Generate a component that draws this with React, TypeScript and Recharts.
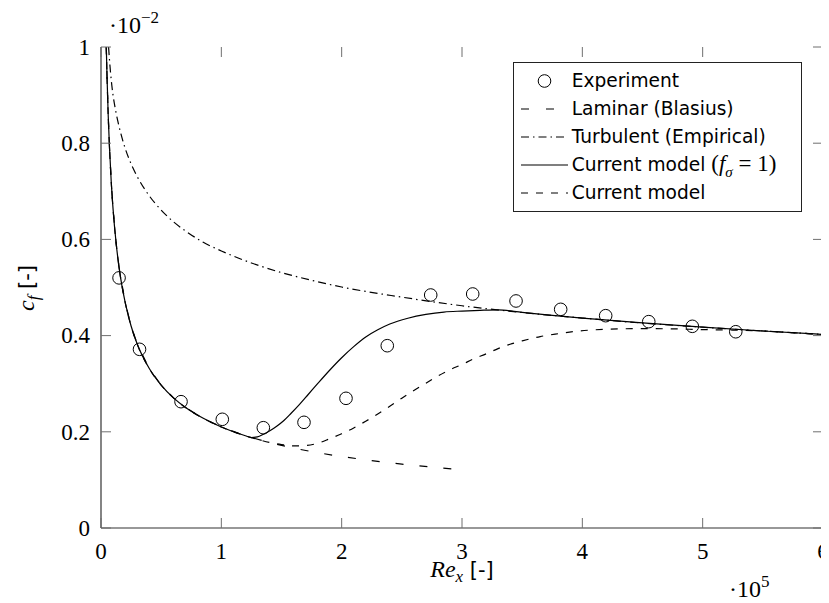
import React from 'react';
import { ComposedChart, Line, Scatter, XAxis, YAxis, Legend, Label } from 'recharts';

// Experiment (Re_x in 1e5, c_f in 1e-2)
const expX = [0.15, 0.32, 0.665, 1.008, 1.349, 1.687, 2.036, 2.379, 2.74, 3.089, 3.449, 3.82, 4.194, 4.552, 4.914, 5.275];
const expY = [0.52, 0.3715, 0.2626, 0.226, 0.2085, 0.2197, 0.2696, 0.379, 0.4844, 0.4865, 0.472, 0.4546, 0.4414, 0.429, 0.4193, 0.408];

// Laminar (Blasius)
const lamX = [0.044, 0.05, 0.06, 0.07, 0.085, 0.1, 0.125, 0.15, 0.2, 0.25, 0.3, 0.4, 0.5, 0.6, 0.7, 0.85, 1.0, 1.2, 1.4, 1.6, 1.8, 2.0, 2.25, 2.5, 2.75, 3.0];
const lamY = [1.0, 0.939, 0.857, 0.794, 0.72, 0.664, 0.594, 0.542, 0.47, 0.42, 0.383, 0.332, 0.297, 0.271, 0.251, 0.228, 0.21, 0.1917, 0.1775, 0.166, 0.1565, 0.1485, 0.14, 0.1328, 0.1266, 0.1212];

// Turbulent (Empirical)
const turX = [0.063, 0.07, 0.08, 0.09, 0.1, 0.12, 0.15, 0.2, 0.25, 0.3, 0.4, 0.5, 0.6, 0.7, 0.85, 1.0, 1.25, 1.5, 1.75, 2.0, 2.5, 3.0, 3.5, 4.0, 4.5, 5.0, 5.5, 6.0];
const turY = [1.0, 0.975, 0.945, 0.92, 0.9, 0.87, 0.835, 0.79, 0.757, 0.731, 0.691, 0.661, 0.637, 0.618, 0.594, 0.576, 0.551, 0.531, 0.515, 0.501, 0.48, 0.462, 0.448, 0.4365, 0.426, 0.4175, 0.4096, 0.4025];

// Current model (f_sigma = 1)
const cm1X = [0.044, 0.05, 0.06, 0.07, 0.085, 0.1, 0.125, 0.15, 0.2, 0.25, 0.3, 0.4, 0.5, 0.6, 0.7, 0.85, 1.0, 1.2, 1.25, 1.3, 1.35, 1.4, 1.46, 1.52, 1.58, 1.65, 1.72, 1.8, 1.9, 2.0, 2.1, 2.2, 2.3, 2.4, 2.55, 2.7, 2.85, 3.0, 3.15, 3.3, 3.5, 3.75, 4.0, 4.5, 5.0, 5.5, 6.0];
const cm1Y = [1.0, 0.939, 0.857, 0.794, 0.72, 0.664, 0.594, 0.542, 0.47, 0.42, 0.383, 0.332, 0.297, 0.271, 0.251, 0.228, 0.21, 0.1917, 0.188, 0.1895, 0.195, 0.2015, 0.2115, 0.2235, 0.2385, 0.257, 0.277, 0.3, 0.328, 0.354, 0.377, 0.397, 0.412, 0.424, 0.436, 0.444, 0.449, 0.451, 0.4525, 0.4535, 0.4484, 0.4422, 0.4365, 0.4264, 0.4175, 0.4096, 0.4025];

// Current model
const cmX = [0.044, 0.05, 0.06, 0.07, 0.085, 0.1, 0.125, 0.15, 0.2, 0.25, 0.3, 0.4, 0.5, 0.6, 0.7, 0.85, 1.0, 1.2, 1.3, 1.4, 1.5, 1.6, 1.7, 1.8, 1.9, 2.0, 2.1, 2.2, 2.3, 2.4, 2.5, 2.6, 2.7, 2.8, 2.9, 3.0, 3.1, 3.2, 3.3, 3.4, 3.5, 3.65, 3.8, 3.95, 4.1, 4.3, 4.5, 4.75, 5.0, 5.25, 5.5, 5.75, 6.0];
const cmY = [1.0, 0.939, 0.857, 0.794, 0.72, 0.664, 0.594, 0.542, 0.47, 0.42, 0.383, 0.332, 0.297, 0.271, 0.251, 0.228, 0.21, 0.1917, 0.1843, 0.178, 0.1735, 0.1707, 0.1715, 0.176, 0.1855, 0.196, 0.208, 0.222, 0.237, 0.253, 0.27, 0.286, 0.301, 0.316, 0.329, 0.34, 0.352, 0.362, 0.373, 0.382, 0.389, 0.398, 0.404, 0.409, 0.412, 0.414, 0.4145, 0.414, 0.4125, 0.4115, 0.4096, 0.406, 0.4025];

const xTicks = [0, 1, 2, 3, 4, 5, 6];
const yTicks = [0, 0.2, 0.4, 0.6, 0.8, 1];

const zip = (xs: number[], ys: number[]) => xs.map((x, i) => ({ x, y: ys[i] }));
const expData = zip(expX, expY);
const lamData = zip(lamX, lamY);
const turData = zip(turX, turY);
const cm1Data = zip(cm1X, cm1Y);
const cmData = zip(cmX, cmY);

const SERIF = "'Liberation Serif', 'DejaVu Serif', serif";
const SANS = "'DejaVu Sans', Verdana, sans-serif";

const LAM_DASH = '8 16';
const TUR_DASH = '8 4 1.5 4';
const CM_DASH = '7 8';

// plot frame (chart coordinates)
const PLOT = { left: 93, top: 39, right: 815, bottom: 520 };
const TICK_LEN = 10;
const TICK_COLOR = '#6f6f6f';
const axisLine = { stroke: '#333', strokeWidth: 1.2 };

const fmt = (v: number) => String(Math.round(v * 10) / 10);

const BottomTick = (p: any) => (
  <g>
    <line x1={p.x} y1={PLOT.bottom} x2={p.x} y2={PLOT.bottom - TICK_LEN} stroke={TICK_COLOR} strokeWidth={1} />
    <line x1={p.x} y1={PLOT.top} x2={p.x} y2={PLOT.top + TICK_LEN} stroke={TICK_COLOR} strokeWidth={1} />
    <text x={p.x} y={PLOT.bottom + 14} dy="0.72em" textAnchor="middle" fontFamily={SERIF} fontSize={23} fill="#000">
      {fmt(p.payload.value)}
    </text>
  </g>
);
const LeftTick = (p: any) => (
  <g>
    <line x1={PLOT.left} y1={p.y} x2={PLOT.left + TICK_LEN} y2={p.y} stroke={TICK_COLOR} strokeWidth={1} />
    <line x1={PLOT.right} y1={p.y} x2={PLOT.right - TICK_LEN} y2={p.y} stroke={TICK_COLOR} strokeWidth={1} />
    <text x={PLOT.left - 11} y={p.y} dy="0.34em" textAnchor="end" fontFamily={SERIF} fontSize={23} fill="#000">
      {fmt(p.payload.value)}
    </text>
  </g>
);

const legendItems = [
  { key: 'exp', kind: 'circle' },
  { key: 'lam', kind: 'lam' },
  { key: 'tur', kind: 'tur' },
  { key: 'cm1', kind: 'solid' },
  { key: 'cm', kind: 'cm' },
];

const legendLabel = (key: string) => {
  switch (key) {
    case 'exp': return <span>Experiment</span>;
    case 'lam': return <span>Laminar (Blasius)</span>;
    case 'tur': return <span>Turbulent (Empirical)</span>;
    case 'cm1':
      return (
        <span>
          Current model{' '}
          <span style={{ fontFamily: SERIF, fontSize: 23 }}>
            (<i>f</i>
            <sub style={{ fontSize: 15, fontStyle: 'italic', lineHeight: 0 }}>σ</sub> = 1)
          </span>
        </span>
      );
    default: return <span>Current model</span>;
  }
};

const LegendSymbol = ({ kind }: { kind: string }) => (
  <svg width={56} height={28} style={{ flex: '0 0 auto', display: 'block' }}>
    {kind === 'circle' && <circle cx={30.5} cy={14} r={6.3} fill="none" stroke="#000" strokeWidth={1} />}
    {kind === 'lam' && <line x1={7} y1={14} x2={54} y2={14} stroke="#000" strokeWidth={1.2} strokeDasharray="8 17" />}
    {kind === 'tur' && <line x1={7} y1={14} x2={54} y2={14} stroke="#000" strokeWidth={1.2} strokeDasharray={TUR_DASH} />}
    {kind === 'solid' && <line x1={7} y1={14} x2={54} y2={14} stroke="#000" strokeWidth={1.2} />}
    {kind === 'cm' && <line x1={7} y1={14} x2={54} y2={14} stroke="#000" strokeWidth={1.2} strokeDasharray={CM_DASH} />}
  </svg>
);

const renderLegend = () => (
  <div
    style={{
      border: '1px solid #222',
      background: '#fff',
      width: 289,
      height: 150,
      boxSizing: 'border-box',
      paddingTop: 4,
      fontFamily: SANS,
      fontSize: 18.6,
      color: '#000',
      lineHeight: '28px',
    }}
  >
    {legendItems.map((it) => (
      <div key={it.key} style={{ display: 'flex', alignItems: 'center', height: 28 }}>
        <LegendSymbol kind={it.kind} />
        <div style={{ marginLeft: 2, whiteSpace: 'nowrap' }}>{legendLabel(it.key)}</div>
      </div>
    ))}
  </div>
);

const circleShape = (p: any) => (
  <circle cx={p.cx} cy={p.cy} r={6.3} fill="none" stroke="#000" strokeWidth={1} />
);

const YLabel = () => (
  <text x={26} y={280} textAnchor="middle" transform="rotate(-90, 26, 280)" fill="#000">
    <tspan fontFamily={SERIF} fontStyle="italic" fontSize={24}>c</tspan>
    <tspan fontFamily={SERIF} fontStyle="italic" fontSize={17} dy={5}>f</tspan>
    <tspan fontFamily={SANS} fontSize={21} dy={-5}> [-]</tspan>
  </text>
);

const XLabel = () => (
  <g>
    <text x={454} y={569} textAnchor="middle" fill="#000">
      <tspan fontFamily={SERIF} fontStyle="italic" fontSize={24}>Re</tspan>
      <tspan fontFamily={SERIF} fontStyle="italic" fontSize={17} dy={5}>x</tspan>
      <tspan fontFamily={SANS} fontSize={21} dy={-5}> [-]</tspan>
    </text>
    <text x={721} y={589} fill="#000" fontFamily={SERIF} fontSize={24}>
      <tspan>·10</tspan>
      <tspan fontSize={17} dy={-10}>5</tspan>
    </text>
    <text x={101} y={25} fill="#000" fontFamily={SERIF} fontSize={24}>
      <tspan>·10</tspan>
      <tspan fontSize={17} dy={-10}>−2</tspan>
    </text>
  </g>
);

export default function App() {
  return (
    <ComposedChart width={821} height={595} margin={{ top: 39, right: 6, bottom: 45, left: 33 }}>
      <XAxis
        xAxisId={0}
        dataKey="x"
        type="number"
        domain={[0, 6]}
        ticks={xTicks}
        height={30}
        tick={<BottomTick />}
        tickSize={0}
        tickMargin={14}
        axisLine={axisLine}
        tickLine={false}
        allowDataOverflow
        interval={0}
      >
        <Label content={<XLabel />} />
      </XAxis>
      <XAxis
        xAxisId="top"
        orientation="top"
        type="number"
        domain={[0, 6]}
        ticks={xTicks}
        height={0}
        tick={false}
        axisLine={axisLine}
        tickLine={false}
      />
      <YAxis
        yAxisId={0}
        dataKey="y"
        type="number"
        domain={[0, 1]}
        ticks={yTicks}
        width={60}
        tick={<LeftTick />}
        tickSize={0}
        tickMargin={11}
        axisLine={axisLine}
        tickLine={false}
        allowDataOverflow
        interval={0}
      >
        <Label content={<YLabel />} />
      </YAxis>
      <YAxis
        yAxisId="right"
        orientation="right"
        type="number"
        domain={[0, 1]}
        ticks={yTicks}
        width={0}
        tick={false}
        axisLine={axisLine}
        tickLine={false}
      />
      <Line data={lamData} dataKey="y" type="linear" stroke="#000" strokeWidth={1.2} strokeDasharray={LAM_DASH} dot={false} isAnimationActive={false} />
      <Line data={turData} dataKey="y" type="monotone" stroke="#000" strokeWidth={1.2} strokeDasharray={TUR_DASH} dot={false} isAnimationActive={false} />
      <Line data={cm1Data} dataKey="y" type="monotone" stroke="#000" strokeWidth={1.2} dot={false} isAnimationActive={false} />
      <Line data={cmData} dataKey="y" type="monotone" stroke="#000" strokeWidth={1.2} strokeDasharray={CM_DASH} dot={false} isAnimationActive={false} />
      <Scatter data={expData} dataKey="y" shape={circleShape} isAnimationActive={false} />
      <Legend
        layout="vertical"
        align="center"
        verticalAlign="middle"
        content={renderLegend}
        wrapperStyle={{ position: 'absolute', left: 504.7, top: 53.7, width: 289, height: 150 }}
      />
    </ComposedChart>
  );
}
